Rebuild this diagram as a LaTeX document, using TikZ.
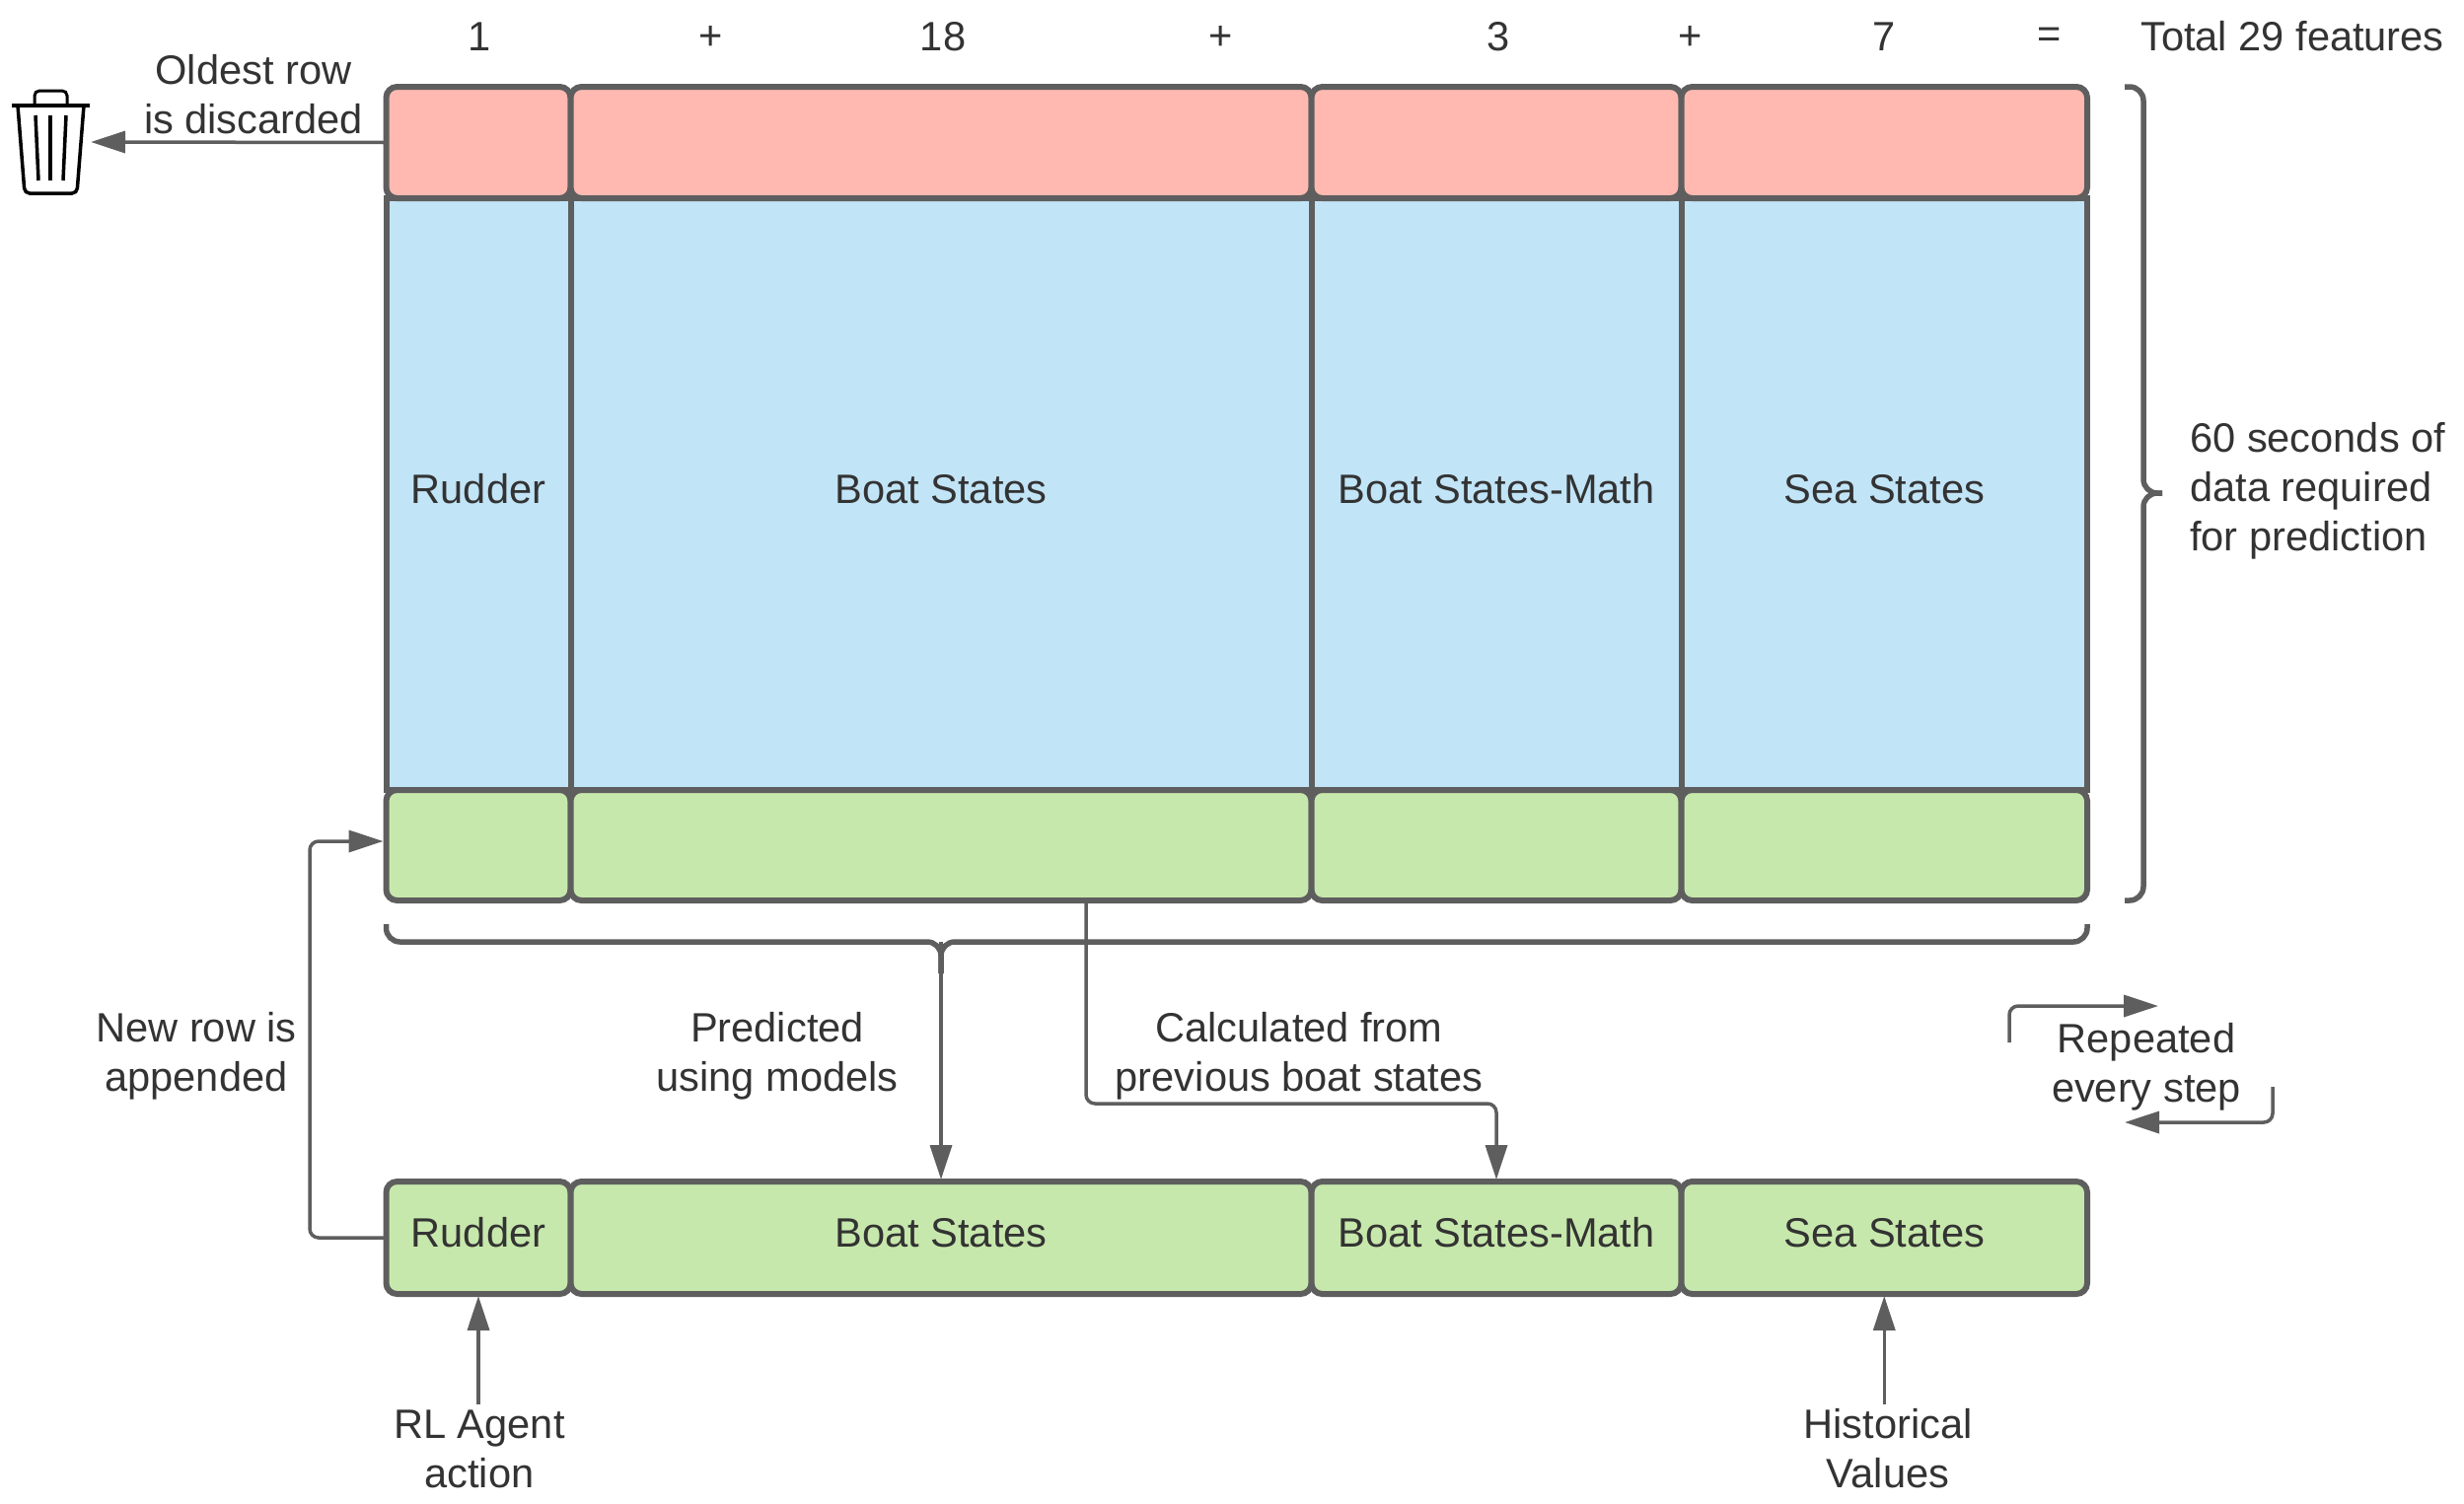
\documentclass[tikz,border=0pt]{standalone}
\usepackage{fontspec}
\setmainfont{Liberation Sans}
\usepackage{tikz}
\usetikzlibrary{positioning, arrows.meta, calc}
\pgfdeclarelayer{background}
\pgfsetlayers{background,main}
\definecolor{lineGrey}{HTML}{5E5E5E}
\definecolor{textGrey}{HTML}{333333}
\definecolor{oldRed}{HTML}{FFB9B1}
\definecolor{histBlue}{HTML}{C1E4F7}
\definecolor{newGreen}{HTML}{C7E8AC}
\tikzset{
    trash/.pic = {
    \draw[line width=4pt] (-39,-37) -- (40,-37);
    \draw[line width=3pt, rounded corners=5pt] (-16,-37) -- (-16,-52) -- (17,-52) -- (17,-37);
    \draw[line width=3.5pt, rounded corners=5pt] (-33,-37) -- (-26,52) -- (27,52) -- (34,-37);
    \draw[line width=3.5pt] (-15,-27) -- (-12,39);
    \draw[line width=3.5pt] (0,-27) -- (0,39);
    \draw[line width=3.5pt] (16,-27) -- (13,39);
    },
    cell/.style={draw=lineGrey, line width=6pt, rounded corners=11pt, outer sep=0pt, inner sep=0pt, font=\labelfont, text=textGrey, text depth=11pt},
    oldcell/.style={cell, fill=oldRed, minimum height=113pt},
    histcell/.style={cell, fill=histBlue, minimum height=600pt, rounded corners=0pt},
    newcell/.style={cell, fill=newGreen, minimum height=112pt},
    rowcell/.style={cell, fill=newGreen, minimum height=114pt},
    wRudder/.style={minimum width=187pt},
    wBoat/.style={minimum width=751pt},
    wMath/.style={minimum width=375pt},
    wSea/.style={minimum width=411.5pt},
    note/.style={font=\labelfont, text=textGrey, align=center, inner sep=0pt},
    flow/.style={draw=lineGrey, line width=3.5pt, rounded corners=9pt, -{Triangle[length=35pt,width=22pt]}},
    brace/.style={draw=lineGrey, line width=5.5pt, rounded corners=14pt},
}
\newcommand{\labelfont}{\fontsize{41.6}{50}\selectfont}

\begin{document}
\begin{tikzpicture}[x=1pt, y=-1pt, node distance=0pt]
    \useasboundingbox (0,0) rectangle (2498,1524);

    % newest and oldest rows
    \node[oldcell, wRudder, anchor=north west] (oldRudder) at (391.5,88) {};
    \node[oldcell, wBoat, right=of oldRudder] (oldBoat) {};
    \node[oldcell, wMath, right=of oldBoat] (oldMath) {};
    \node[oldcell, wSea, right=of oldMath] (oldSea) {};

    \begin{pgfonlayer}{background}
      \node[histcell, wRudder, below=of oldRudder] (histRudder) {Rudder};
      \node[histcell, wBoat, below=of oldBoat] (histBoat) {Boat States};
      \node[histcell, wMath, below=of oldMath] (histMath) {Boat States-Math};
      \node[histcell, wSea, below=of oldSea] (histSea) {Sea States};
    \end{pgfonlayer}

    \node[newcell, wRudder, below=of histRudder] (newRudder) {};
    \node[newcell, wBoat, below=of histBoat] (newBoat) {};
    \node[newcell, wMath, below=of histMath] (newMath) {};
    \node[newcell, wSea, below=of histSea] (newSea) {};

    % row being built
    \node[rowcell, wRudder, below=285pt of newRudder] (rowRudder) {Rudder};
    \node[rowcell, wBoat, right=of rowRudder] (rowBoat) {Boat States};
    \node[rowcell, wMath, right=of rowBoat] (rowMath) {Boat States-Math};
    \node[rowcell, wSea, right=of rowMath] (rowSea) {Sea States};

    % feature counts
    \node[note] (cntRudder) at (486,37) {1};
    \node[note] (plusA) at (721,38) {+};
    \node[note] (cntBoat) at (956,37) {18};
    \node[note] (plusB) at (1238,38) {+};
    \node[note] (cntMath) at (1519,37) {3};
    \node[note] (plusC) at (1714,38) {+};
    \node[note] (cntSea) at (oldSea |- 0,37) {7};
    \node[note] (equal) at (2078,38) {=};
    \node[note] (total) at (2324,37) {Total 29 features};

    % labels
    \node[note] (oldest) at (257,96) {Oldest row\\is discarded};
    \node[note] (appended) at (199,1071) {New row is\\appended};
    \node[note] (predicted) at (788,1071) {Predicted\\using models};
    \node[note] (calculated) at (1317,1071) {Calculated from\\previous boat states};
    \node[note] (repeated) at (2176,1082) {Repeated\\every step};
    \node[note, align=left, anchor=west] (seconds) at (2220,498) {60 seconds of\\data required\\for prediction};
    \node[note] (agent) at (486,1469) {RL Agent\\action};
    \node[note] (values) at (1914,1469) {Historical\\Values};

    \pic at (51,144) {trash};

    \coordinate (binPoint) at (92,144);
    \coordinate (sideLeft) at (314,1255);
    \coordinate (newPoint) at ($(newRudder.west)+(0,-4)$);
    \coordinate (braceL) at (rowRudder.west |- 0,937);
    \coordinate (braceR) at (rowSea.east |- 0,937);
    \coordinate (braceM) at (rowBoat.north |- 0,955);
    \coordinate (calcStart) at ($(newBoat.south)+(147,0)$);
    \coordinate (repeatA) at (2037,1057);
    \coordinate (repeatAEnd) at (2188,1020);
    \coordinate (repeatB) at (2304,1102);
    \coordinate (repeatBEnd) at (2154,1138);
    \coordinate (sideTop) at (2154,88);
    \coordinate (sideBot) at (2154,913);
    \coordinate (sideTip) at (2192,500);

    % connectors
    \draw[flow] (oldRudder.west) -- (binPoint);
    \draw[flow, shorten >=3pt] (rowRudder.west) -| (sideLeft |- newPoint) -- (newPoint);
    \draw[flow, shorten >=2pt, rounded corners=0pt] (braceM) -- (rowBoat.north);
    \draw[flow, shorten >=2pt] (calcStart) |- (1300,1119) -| (rowMath.north);
    \draw[flow, shorten >=2pt] (rowRudder.south |- 0,1424) -- (rowRudder.south);
    \draw[flow, shorten >=2pt] (rowSea.south |- 0,1424) -- (rowSea.south);
    \draw[flow] (repeatA) |- (repeatAEnd);
    \draw[flow] (repeatB) |- (repeatBEnd);

    % braces
    \draw[brace] (braceL) -- (braceL |- braceM) -- (braceM) -- ++(0,32);
    \draw[brace] (braceR) -- (braceR |- braceM) -- (braceM) -- ++(0,32);
    \draw[brace] (sideTop) -- (2173,88) -- (2173,500) -- (sideTip);
    \draw[brace] (sideBot) -- (2173,913) -- (2173,500) -- (sideTip);
\end{tikzpicture}
\end{document}
